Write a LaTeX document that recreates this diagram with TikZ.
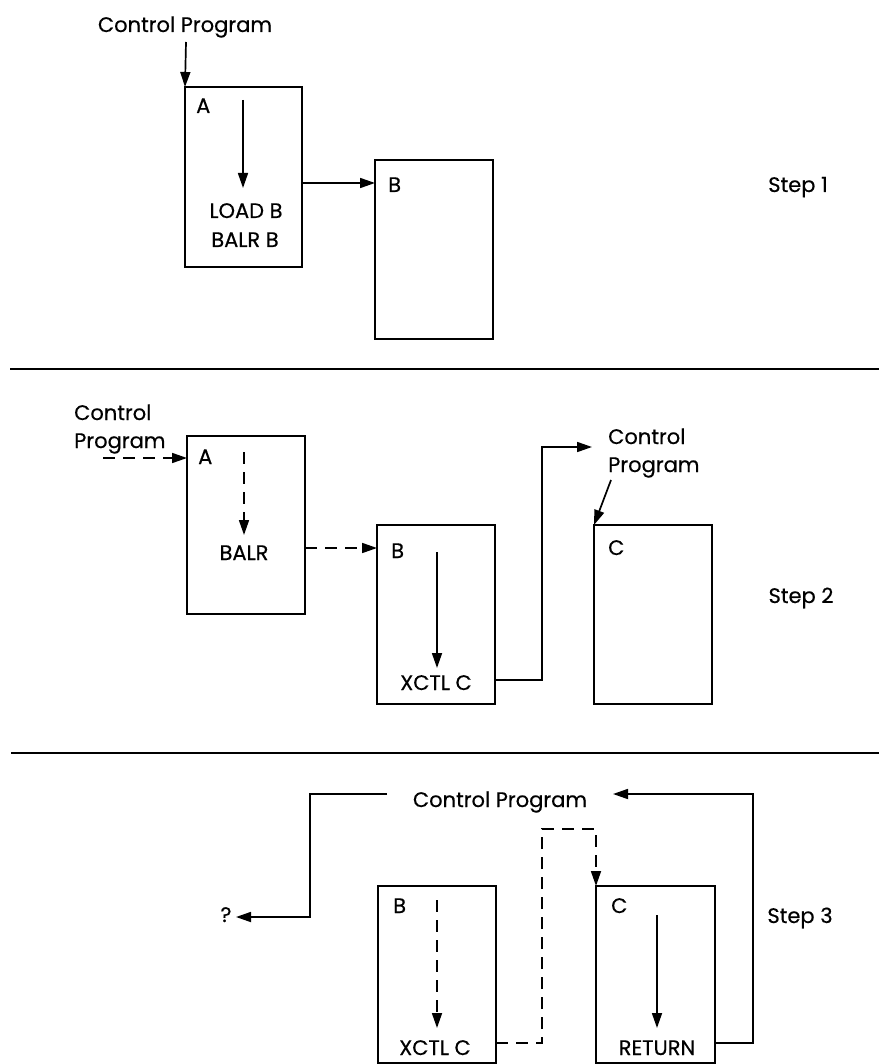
\documentclass[tikz,border=0pt]{standalone}
\usepackage{fontspec}
\setmainfont{Poppins}[FakeBold=0.4]
\usetikzlibrary{arrows.meta}
\begin{document}
\begin{tikzpicture}[x=1pt,y=-1pt,
  box/.style={draw, line width=2.4pt, minimum width=118pt, minimum height=179pt, anchor=north west, inner sep=0pt, outer sep=0pt},
  lbl/.style={font=\fontsize{21}{25}\selectfont, inner sep=0pt},
  arr/.style={line width=1.7pt, -{Triangle[length=15pt,width=10pt]}},
  darr/.style={arr, dash pattern=on 12pt off 8pt},
  ln/.style={line width=1.7pt},
  dln/.style={ln, dash pattern=on 12pt off 8pt},
  sep/.style={line width=2.2pt}]
\useasboundingbox (0,0) rectangle (879,1064);

% ---------- Step 1 ----------
\node[lbl, anchor=base] (cp1) at (185,32) {Control Program};
\node[box, minimum width=117pt, minimum height=180pt] (A1) at (185,87) {};
\node[box] (B1) at (375,160) {};
\coordinate (cp1s) at (186,42);
\draw[arr] (cp1s) -- (A1.north west);
\node[lbl, anchor=base west] (A1l) at (196,113) {A};
\coordinate (a1s) at (243,100);
\coordinate (a1e) at (243,188);
\draw[arr] (a1s) -- (a1e);
\node[lbl, anchor=base] (load) at (246,218) {LOAD B};
\node[lbl, anchor=base] (balr1) at (245,247) {BALR B};
\draw[arr] (A1.east |- 0,183) -- (B1.west |- 0,183);
\node[lbl, anchor=base west] (B1l) at (388,192) {B};
\node[lbl, anchor=base] (s1) at (798,192) {Step 1};
\coordinate (sep1a) at (10,369);
\coordinate (sep1b) at (879,369);
\draw[sep] (sep1a) -- (sep1b);

% ---------- Step 2 ----------
\node[lbl, anchor=base west] (cp2a) at (74,420) {Control};
\node[lbl, anchor=base west] (cp2b) at (74,448) {Program};
\node[box, minimum height=178pt] (A2) at (187,436) {};
\node[box] (B2) at (377,525) {};
\node[box] (C2) at (594,525) {};
\coordinate (cp2s) at (103,458);
\draw[darr] (cp2s) -- (A2.west |- 0,458);
\node[lbl, anchor=base west] (A2l) at (198,464) {A};
\coordinate (a2s) at (244,452);
\coordinate (a2e) at (244,535);
\draw[darr] (a2s) -- (a2e);
\node[lbl, anchor=base] (balr2) at (244,560) {BALR};
\draw[darr] (A2.east |- 0,548) -- (B2.west |- 0,548);
\node[lbl, anchor=base west] (B2l) at (391,558) {B};
\coordinate (b2s) at (437,552);
\coordinate (b2e) at (437,668);
\draw[arr] (b2s) -- (b2e);
\node[lbl, anchor=base] (xctl2) at (436,690) {XCTL C};
\node[lbl, anchor=base west] (cp2c) at (608,444) {Control};
\node[lbl, anchor=base west] (cp2d) at (608,472) {Program};
\coordinate (cp2tip) at (592,447);
\draw[arr] (B2.east |- 0,680) -| (542,447) -- (cp2tip);
\coordinate (cp2ds) at (611,480);
\draw[arr] (cp2ds) -- (C2.north west);
\node[lbl, anchor=base west] (C2l) at (608,555) {C};
\node[lbl, anchor=base] (s2) at (801,603) {Step 2};
\coordinate (sep2a) at (11,753);
\coordinate (sep2b) at (879,753);
\draw[sep] (sep2a) -- (sep2b);

% ---------- Step 3 ----------
\node[lbl, anchor=base] (cp3) at (500,807) {Control Program};
\node[box, minimum height=177pt] (B3) at (378,886) {};
\node[box, minimum width=119pt, minimum height=177pt] (C3) at (596,886) {};
\node[lbl, anchor=base] (q) at (226,922) {?};
\coordinate (cp3l) at (387,794);
\coordinate (qtip) at (236,917);
\draw[arr] (cp3l) -- (310,794) |- (qtip);
\coordinate (cp3r) at (613,794);
\draw[arr] (C3.east |- 0,1043) -| (753,794) -- (cp3r);
\draw[darr] (B3.east |- 0,1043) -| (542,829) -| (C3.north west);
\node[lbl, anchor=base west] (B3l) at (393,913) {B};
\node[lbl, anchor=base west] (C3l) at (611,913) {C};
\coordinate (b3s) at (437,900);
\coordinate (b3e) at (437,1028);
\draw[darr] (b3s) -- (b3e);
\node[lbl, anchor=base] (xctl3) at (435,1055) {XCTL C};
\coordinate (c3s) at (657,915);
\coordinate (c3e) at (657,1028);
\draw[arr] (c3s) -- (c3e);
\node[lbl, anchor=base] (ret) at (657,1055) {RETURN};
\node[lbl, anchor=base] (s3) at (800,923) {Step 3};
\end{tikzpicture}
\end{document}
